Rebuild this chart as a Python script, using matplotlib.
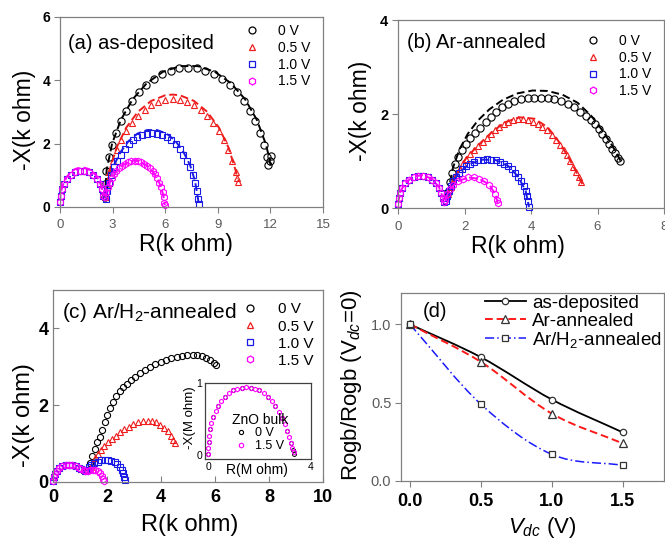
import numpy as np
import matplotlib
matplotlib.use('Agg')
import matplotlib.pyplot as plt
from matplotlib.path import Path
from matplotlib.patches import PathPatch
from matplotlib.lines import Line2D

plt.rcParams['font.family'] = ['Liberation Sans', 'DejaVu Sans']
plt.rcParams['mathtext.fontset'] = 'custom'
plt.rcParams['mathtext.rm'] = 'Liberation Sans'
plt.rcParams['mathtext.it'] = 'Liberation Sans:italic'
plt.rcParams['mathtext.bf'] = 'Liberation Sans:bold'

# ---------------- data (k ohm) ----------------
volt_labels = ['0 V', '0.5 V', '1.0 V', '1.5 V']

# (a) as-deposited
a_arc1_R = [0.00, 0.03, 0.11, 0.24, 0.41, 0.63, 0.86, 1.12, 1.38, 1.64, 1.88, 2.09, 2.26, 2.39, 2.47]
a_arc1_X = [0.15, 0.36, 0.56, 0.74, 0.89, 1.02, 1.10, 1.14, 1.14, 1.10, 1.02, 0.89, 0.74, 0.56, 0.36]
a_R0 = [2.55, 2.58, 2.65, 2.78, 2.96, 3.19, 3.46, 3.77, 4.12, 4.51, 4.93, 5.37, 5.83, 6.31, 6.80, 7.30,
        7.80, 8.29, 8.77, 9.23, 9.68, 10.09, 10.48, 10.83, 11.14, 11.41, 11.64, 11.82, 11.95, 12.05, 11.88]
a_X0 = [0.30, 0.73, 1.15, 1.57, 1.97, 2.35, 2.71, 3.04, 3.35, 3.62, 3.85, 4.05, 4.20, 4.31, 4.38, 4.40,
        4.38, 4.31, 4.20, 4.05, 3.85, 3.62, 3.35, 3.04, 2.71, 2.35, 1.97, 1.57, 1.45, 1.62, 1.33]
a_R05 = [2.57, 2.67, 2.82, 3.01, 3.23, 3.49, 3.78, 4.10, 4.45, 4.82, 5.20, 5.60, 6.01, 6.42, 6.83, 7.24,
         7.64, 8.02, 8.39, 8.74, 9.06, 9.35, 9.61, 9.83, 10.02, 10.10, 10.13]
a_X05 = [0.31, 0.71, 1.09, 1.45, 1.79, 2.11, 2.40, 2.66, 2.88, 3.06, 3.21, 3.31, 3.38, 3.40, 3.38, 3.31,
         3.21, 3.06, 2.88, 2.66, 2.40, 2.11, 1.79, 1.45, 1.09, 0.90, 0.80]
a_R10 = [2.63, 2.70, 2.80, 2.93, 3.08, 3.26, 3.46, 3.68, 3.91, 4.16, 4.42, 4.69, 4.97, 5.25, 5.53, 5.81,
         6.08, 6.34, 6.59, 6.83, 7.04, 7.24, 7.42, 7.57, 7.70, 7.80, 7.87, 7.90]
a_X10 = [0.25, 0.51, 0.77, 1.02, 1.25, 1.46, 1.65, 1.83, 1.98, 2.10, 2.20, 2.27, 2.32, 2.33, 2.32, 2.27,
         2.20, 2.10, 1.98, 1.83, 1.65, 1.46, 1.25, 1.02, 0.77, 0.51, 0.25, 0.11]
a_R15 = [2.59, 2.65, 2.73, 2.83, 2.95, 3.08, 3.22, 3.38, 3.54, 3.71, 3.89, 4.07, 4.25, 4.43, 4.61, 4.79,
         4.96, 5.13, 5.28, 5.42, 5.55, 5.67, 5.77, 5.85, 5.91, 5.96, 5.98]
a_X15 = [0.31, 0.47, 0.63, 0.77, 0.90, 1.03, 1.13, 1.23, 1.31, 1.37, 1.41, 1.44, 1.45, 1.44, 1.41, 1.37,
         1.31, 1.23, 1.13, 1.03, 0.90, 0.77, 0.63, 0.47, 0.31, 0.14, 0.06]
# fitted curves (dashed)
a_fit_arc1_R = [0.00, 0.03, 0.11, 0.24, 0.41, 0.63, 0.86, 1.12, 1.38, 1.64, 1.88, 2.09, 2.26, 2.39, 2.47]
a_fit_arc1_X = [0.15, 0.38, 0.60, 0.80, 0.97, 1.10, 1.20, 1.24, 1.24, 1.20, 1.10, 0.97, 0.80, 0.60, 0.38]
a_fit_R0 = [2.55, 2.66, 2.97, 3.47, 4.14, 4.95, 5.87, 6.85, 7.85, 8.83, 9.75, 10.56, 11.23, 11.73, 11.92, 12.01]
a_fit_X0 = [0.30, 1.17, 2.00, 2.75, 3.40, 3.91, 4.27, 4.45, 4.45, 4.27, 3.91, 3.40, 2.75, 2.00, 1.59, 1.31]
a_fit_R05 = [2.57, 2.82, 3.23, 3.78, 4.45, 5.20, 6.01, 6.42, 6.83, 7.64, 8.39, 9.06, 9.61, 10.02, 10.12]
a_fit_X05 = [0.34, 1.15, 1.88, 2.51, 3.01, 3.35, 3.53, 3.55, 3.53, 3.35, 3.01, 2.51, 1.88, 1.15, 0.89]
a_fit_R10 = [2.63, 2.80, 3.08, 3.46, 3.91, 4.42, 4.97, 5.53, 6.08, 6.59, 7.04, 7.42, 7.70, 7.87, 7.90]
a_fit_X10 = [0.27, 0.82, 1.32, 1.74, 2.08, 2.32, 2.43, 2.43, 2.32, 2.08, 1.74, 1.32, 0.82, 0.27, 0.13]
a_fit_R15 = [2.59, 2.73, 2.95, 3.22, 3.54, 3.89, 4.25, 4.61, 4.96, 5.28, 5.55, 5.77, 5.91, 5.98]
a_fit_X15 = [0.31, 0.63, 0.90, 1.13, 1.31, 1.41, 1.48, 1.41, 1.31, 1.13, 0.90, 0.63, 0.31, 0.06]

# (b) Ar-annealed
b_arc1_R = [0.00, 0.02, 0.06, 0.13, 0.22, 0.34, 0.47, 0.61, 0.75, 0.89, 1.02, 1.14, 1.23, 1.30, 1.35, 1.37]
b_arc1_X = [0.08, 0.21, 0.32, 0.43, 0.53, 0.60, 0.65, 0.68, 0.68, 0.65, 0.60, 0.53, 0.43, 0.32, 0.21, 0.12]
b_R0 = [1.50, 1.56, 1.63, 1.71, 1.80, 1.92, 2.05, 2.18, 2.32, 2.48, 2.64, 2.80, 2.96, 3.12, 3.30, 3.50,
        3.70, 3.90, 4.10, 4.30, 4.50, 4.70, 4.90, 5.10, 5.30, 5.48, 5.64, 5.79, 5.92, 6.04, 6.15, 6.25,
        6.35, 6.44, 6.53, 6.61, 6.68]
b_X0 = [0.35, 0.55, 0.75, 0.93, 1.09, 1.23, 1.37, 1.48, 1.59, 1.71, 1.83, 1.94, 2.05, 2.14, 2.21, 2.27,
        2.31, 2.34, 2.35, 2.35, 2.34, 2.32, 2.28, 2.22, 2.14, 2.05, 1.96, 1.88, 1.79, 1.68, 1.57, 1.46,
        1.36, 1.26, 1.16, 1.07, 1.00]
b_R05 = [1.50, 1.58, 1.66, 1.75, 1.85, 1.95, 2.06, 2.18, 2.30, 2.42, 2.55, 2.68, 2.80, 2.92, 3.05, 3.18,
         3.32, 3.46, 3.60, 3.75, 3.90, 4.05, 4.20, 4.34, 4.48, 4.62, 4.75, 4.87, 4.98, 5.08, 5.18, 5.27,
         5.35, 5.43, 5.50]
b_X05 = [0.30, 0.45, 0.58, 0.70, 0.83, 0.95, 1.05, 1.14, 1.23, 1.31, 1.40, 1.49, 1.58, 1.66, 1.73, 1.79,
         1.84, 1.88, 1.90, 1.90, 1.88, 1.84, 1.79, 1.73, 1.66, 1.55, 1.45, 1.34, 1.23, 1.12, 1.00, 0.88,
         0.76, 0.65, 0.55]
b_R10 = [1.44, 1.47, 1.52, 1.58, 1.65, 1.74, 1.83, 1.93, 2.05, 2.16, 2.29, 2.42, 2.55, 2.68, 2.81, 2.94,
         3.07, 3.20, 3.32, 3.43, 3.53, 3.62, 3.71, 3.78, 3.84, 3.89, 3.92, 3.94]
b_X10 = [0.14, 0.25, 0.36, 0.47, 0.57, 0.66, 0.75, 0.82, 0.89, 0.94, 0.98, 1.02, 1.03, 1.04, 1.03, 1.02,
         0.98, 0.94, 0.89, 0.82, 0.75, 0.66, 0.57, 0.47, 0.36, 0.25, 0.14, 0.02]
b_R15 = [1.42, 1.47, 1.55, 1.66, 1.80, 1.95, 2.12, 2.28, 2.45, 2.60, 2.74, 2.85, 2.93, 2.98, 3.00]
b_X15 = [0.17, 0.29, 0.40, 0.50, 0.57, 0.62, 0.65, 0.65, 0.62, 0.57, 0.50, 0.40, 0.29, 0.17, 0.11]
b_fit_arc1_R = [0.00, 0.06, 0.22, 0.47, 0.75, 1.02, 1.23, 1.35]
b_fit_arc1_X = [0.08, 0.33, 0.54, 0.67, 0.70, 0.62, 0.45, 0.22]
b_fit_R0 = [1.50, 1.65, 1.85, 2.10, 2.40, 2.75, 3.15, 3.60, 4.05, 4.50, 4.95, 5.40, 5.80, 6.15, 6.45, 6.70]
b_fit_X0 = [0.30, 0.85, 1.25, 1.58, 1.86, 2.10, 2.30, 2.44, 2.50, 2.49, 2.41, 2.24, 1.97, 1.65, 1.32, 1.00]
b_fit_R05 = [1.50, 1.75, 2.05, 2.40, 2.80, 3.20, 3.65, 4.10, 4.50, 4.85, 5.15, 5.40, 5.55]
b_fit_X05 = [0.30, 0.72, 1.06, 1.33, 1.60, 1.82, 1.93, 1.90, 1.72, 1.40, 1.05, 0.72, 0.50]
b_fit_R10 = [1.44, 1.58, 1.83, 2.16, 2.55, 2.94, 3.32, 3.62, 3.84, 3.94]
b_fit_X10 = [0.14, 0.47, 0.75, 0.94, 1.03, 1.02, 0.89, 0.66, 0.36, 0.02]
b_fit_R15 = [1.42, 1.55, 1.80, 2.12, 2.45, 2.74, 2.93, 3.00]
b_fit_X15 = [0.17, 0.40, 0.57, 0.65, 0.62, 0.50, 0.29, 0.11]

# (c) Ar/H2-annealed
c_arc1_R = [0.00, 0.03, 0.08, 0.15, 0.24, 0.35, 0.47, 0.60, 0.72, 0.84, 0.95, 1.05, 1.13, 1.20]
c_arc1_X = [0.02, 0.12, 0.21, 0.29, 0.36, 0.41, 0.44, 0.45, 0.44, 0.41, 0.37, 0.33, 0.30, 0.28]
c_R0 = [1.30, 1.38, 1.46, 1.55, 1.64, 1.73, 1.82, 1.92, 2.01, 2.11, 2.22, 2.34, 2.47, 2.60, 2.73, 2.88,
        3.04, 3.22, 3.40, 3.59, 3.79, 3.99, 4.19, 4.38, 4.58, 4.78, 4.98, 5.17, 5.35, 5.52, 5.68, 5.82,
        5.95, 6.05]
c_X0 = [0.32, 0.50, 0.68, 0.87, 1.03, 1.18, 1.36, 1.55, 1.74, 1.92, 2.09, 2.23, 2.36, 2.47, 2.56, 2.65,
        2.74, 2.83, 2.92, 3.00, 3.07, 3.13, 3.18, 3.22, 3.25, 3.28, 3.30, 3.31, 3.30, 3.27, 3.22, 3.17,
        3.11, 3.05]
c_R05 = [1.40, 1.48, 1.57, 1.67, 1.78, 1.90, 2.03, 2.17, 2.32, 2.48, 2.64, 2.81, 2.98, 3.15, 3.32, 3.50,
         3.67, 3.83, 3.98, 4.12, 4.25, 4.36, 4.45, 4.50]
c_X05 = [0.38, 0.50, 0.62, 0.74, 0.84, 0.94, 1.03, 1.12, 1.21, 1.29, 1.37, 1.44, 1.50, 1.55, 1.59, 1.60,
         1.59, 1.55, 1.49, 1.41, 1.32, 1.21, 1.10, 1.02]
c_R10 = [1.23, 1.32, 1.42, 1.53, 1.65, 1.78, 1.91, 2.04, 2.16, 2.28, 2.38, 2.47, 2.54, 2.60, 2.64, 2.66]
c_X10 = [0.30, 0.38, 0.44, 0.49, 0.53, 0.56, 0.57, 0.57, 0.55, 0.51, 0.46, 0.40, 0.32, 0.23, 0.13, 0.04]
c_R15 = [1.28, 1.37, 1.47, 1.57, 1.66, 1.74, 1.81, 1.86, 1.90]
c_X15 = [0.29, 0.31, 0.32, 0.31, 0.28, 0.23, 0.16, 0.09, 0.02]

# inset: ZnO bulk (M ohm)
ins_R0 = [0.00, 0.02, 0.08, 0.20, 0.40, 0.66, 0.97, 1.31, 1.65, 1.99, 2.32, 2.61, 2.86, 3.06, 3.21, 3.30, 3.34]
ins_X0 = [0.02, 0.18, 0.36, 0.53, 0.68, 0.81, 0.90, 0.93, 0.93, 0.90, 0.81, 0.68, 0.52, 0.34, 0.17, 0.07, 0.02]
ins_R15 = [0.00, 0.01, 0.02, 0.04, 0.08, 0.13, 0.20, 0.29, 0.40, 0.52, 0.66, 0.81, 0.97, 1.14, 1.31, 1.48,
           1.65, 1.82, 1.99, 2.16, 2.32, 2.47, 2.61, 2.74, 2.86, 2.97, 3.06, 3.14, 3.21, 3.27, 3.32]
ins_X15 = [0.02, 0.10, 0.18, 0.27, 0.36, 0.45, 0.53, 0.61, 0.68, 0.75, 0.81, 0.86, 0.90, 0.92, 0.93, 0.94,
           0.93, 0.92, 0.90, 0.86, 0.81, 0.75, 0.68, 0.60, 0.52, 0.43, 0.34, 0.25, 0.17, 0.10, 0.05]

# (d) grain-boundary resistance ratio
v_dc = [0.0, 0.5, 1.0, 1.5]
ratio_asdep = [1.0, 0.79, 0.52, 0.31]
ratio_ar = [1.0, 0.76, 0.43, 0.24]
ratio_arh2 = [1.0, 0.49, 0.17, 0.10]
d_labels = ['as-deposited', 'Ar-annealed', 'Ar/H$_2$-annealed']

# ---------------- styling ----------------
W, H = 665, 539
BLK, RED, BLU, MAG = 'black', '#ee1c1c', '#1a1ae6', '#ff00ff'
GRAY = '#808080'
TICKGRAY = '#5a5a5a'
colors = [BLK, RED, BLU, MAG]
markers = ['o', '^', 's', 'h']

fig = plt.figure(figsize=(W / 100, H / 100), dpi=100)


def px_axes(l, t, r, b):
    return fig.add_axes([l / W, 1 - b / H, (r - l) / W, (b - t) / H])


def style(ax, xsize, xbold, xcol, ysize, ybold, ycol, direction='out'):
    for s in ax.spines.values():
        s.set_color(GRAY)
        s.set_linewidth(0.9)
    ax.tick_params(direction=direction, length=4, width=0.8, color=GRAY)
    ax.tick_params(axis='x', labelsize=xsize, labelcolor=xcol, pad=5)
    ax.tick_params(axis='y', labelsize=ysize, labelcolor=ycol, pad=3)
    for t in ax.xaxis.get_major_ticks():
        t.label1.set_fontweight('bold' if xbold else 'normal')
    for t in ax.yaxis.get_major_ticks():
        t.label1.set_fontweight('bold' if ybold else 'normal')


def data(ax, R, X, color, marker, ms=4.8):
    ax.plot(R, X, ls='none', marker=marker, ms=ms, mfc='none', mec=color, mew=0.8, clip_on=False)


def fit(ax, R, X, color):
    ax.plot(R, X, color=color, ls=(0, (4, 2)), lw=1.4)


def volt_legend(ax, x, y, size):
    handles = [Line2D([], [], ls='none', marker=m, mfc='none', mec=c, ms=5, mew=0.9)
               for m, c in zip(markers, colors)]
    ax.legend(handles, volt_labels, loc='upper left', bbox_to_anchor=(x, y), frameon=False,
              fontsize=size, handlelength=1.0, handletextpad=1.35, labelspacing=0.2,
              borderpad=0, borderaxespad=0)


# ---------------- (a) ----------------
ax = px_axes(60, 17, 323, 207)
data(ax, a_R0, a_X0, BLK, 'o', 5.2)
fit(ax, a_fit_R0, a_fit_X0, BLK)
data(ax, a_R05, a_X05, RED, '^')
fit(ax, a_fit_R05, a_fit_X05, RED)
data(ax, a_arc1_R, a_arc1_X, BLU, 's')
data(ax, a_R10, a_X10, BLU, 's')
fit(ax, a_fit_R10, a_fit_X10, BLU)
data(ax, a_arc1_R, a_arc1_X, MAG, 'h')
data(ax, a_R15, a_X15, MAG, 'h')
fit(ax, a_fit_arc1_R, a_fit_arc1_X, MAG)
fit(ax, a_fit_R15, a_fit_X15, MAG)
ax.set_xlim(0, 15)
ax.set_ylim(0, 6)
ax.set_xticks([0, 3, 6, 9, 12, 15])
ax.set_yticks([0, 2, 4, 6])
style(ax, 9.5, False, TICKGRAY, 10, True, 'black')
ax.text(0.03, 0.863, '(a) as-deposited', transform=ax.transAxes, ha='left', va='center', fontsize=14.5)
volt_legend(ax, 0.703, 0.963, 10)
fig.text(24 / W, 1 - 120 / H, '-X(k ohm)', rotation=90, ha='center', va='center', fontsize=16.5)
fig.text(186 / W, 1 - 245 / H, 'R(k ohm)', ha='center', va='center', fontsize=16.5)

# ---------------- (b) ----------------
ax = px_axes(398, 20, 664, 208)
data(ax, b_R0, b_X0, BLK, 'o', 5.2)
fit(ax, b_fit_R0, b_fit_X0, BLK)
data(ax, b_R05, b_X05, RED, '^')
fit(ax, b_fit_R05, b_fit_X05, RED)
data(ax, b_arc1_R, b_arc1_X, BLU, 's')
data(ax, b_R10, b_X10, BLU, 's')
fit(ax, b_fit_R10, b_fit_X10, BLU)
data(ax, b_arc1_R, b_arc1_X, MAG, 'h')
data(ax, b_R15, b_X15, MAG, 'h')
fit(ax, b_fit_arc1_R, b_fit_arc1_X, MAG)
fit(ax, b_fit_R15, b_fit_X15, MAG)
ax.set_xlim(0, 8)
ax.set_ylim(0, 4)
ax.set_xticks([0, 2, 4, 6, 8])
ax.set_yticks([0, 2, 4])
style(ax, 9.5, False, TICKGRAY, 10.5, True, 'black')
ax.text(0.034, 0.878, '(b) Ar-annealed', transform=ax.transAxes, ha='left', va='center', fontsize=14.5)
volt_legend(ax, 0.707, 0.926, 10)
fig.text(360 / W, 1 - 111 / H, '-X(k ohm)', rotation=90, ha='center', va='center', fontsize=16.5)
fig.text(518 / W, 1 - 247 / H, 'R(k ohm)', ha='center', va='center', fontsize=16.5)

# ---------------- (c) ----------------
ax = px_axes(53, 290, 323, 482)
data(ax, c_R0, c_X0, BLK, 'o', 4.4)
data(ax, c_R05, c_X05, RED, '^', 4.4)
data(ax, c_arc1_R, c_arc1_X, BLU, 's', 4.4)
data(ax, c_R10, c_X10, BLU, 's', 4.8)
data(ax, c_arc1_R, c_arc1_X, MAG, 'h', 4.8)
data(ax, c_R15, c_X15, MAG, 'h', 4.8)
ax.set_xlim(0, 10)
ax.set_ylim(0, 5)
ax.set_xticks([0, 2, 4, 6, 8, 10])
ax.set_yticks([0, 2, 4])
style(ax, 13, True, 'black', 13, True, 'black', direction='in')
ax.text(0.033, 0.885, '(c) Ar/H$_2$-annealed', transform=ax.transAxes, ha='left', va='center', fontsize=15)
volt_legend(ax, 0.70, 0.935, 11)
fig.text(24 / W, 1 - 415 / H, '-X(k ohm)', rotation=90, ha='center', va='center', fontsize=17)
fig.text(190 / W, 1 - 525 / H, 'R(k ohm)', ha='center', va='center', fontsize=17)

# inset
axi = px_axes(205, 383, 311, 459)
axi.plot(ins_R0, ins_X0, ls='none', marker='o', ms=2.8, mfc='none', mec=BLK, mew=0.7, clip_on=False)
axi.plot(ins_R15, ins_X15, ls='none', marker='h', ms=3.2, mfc='none', mec=MAG, mew=0.8, clip_on=False)
axi.set_xlim(-0.12, 4.0)
axi.set_ylim(-0.05, 1.0)
axi.set_xticks([0, 4])
axi.set_yticks([0, 1])
for s in axi.spines.values():
    s.set_color('#404040')
    s.set_linewidth(0.9)
axi.tick_params(length=0, labelsize=7.5, pad=2)
ins_handles = [Line2D([], [], ls='none', marker='o', ms=3, mfc='none', mec=BLK, mew=0.8),
               Line2D([], [], ls='none', marker='h', ms=3.5, mfc='none', mec=MAG, mew=0.8)]
leg = axi.legend(ins_handles, ['0 V', '1.5 V'], title='ZnO bulk', loc='upper left',
                 bbox_to_anchor=(0.25, 0.61), frameon=False, fontsize=9, title_fontsize=10,
                 handlelength=1.0, handletextpad=0.6, labelspacing=0.05, borderpad=0, borderaxespad=0)
fig.text(190 / W, 1 - 418 / H, '-X(M ohm)', rotation=90, ha='center', va='center', fontsize=9.5)
fig.text(257 / W, 1 - 470 / H, 'R(M ohm)', ha='center', va='center', fontsize=10)

# ---------------- (d) ----------------


def smooth_path(x, y):
    p = np.column_stack([x, y]).astype(float)
    ext = np.vstack([2 * p[0] - p[1], p, 2 * p[-1] - p[-2]])
    verts = [p[0]]
    codes = [Path.MOVETO]
    for i in range(1, len(ext) - 2):
        b1 = ext[i] + (ext[i + 1] - ext[i - 1]) / 6
        b2 = ext[i + 1] - (ext[i + 2] - ext[i]) / 6
        verts += [b1, b2, ext[i + 1]]
        codes += [Path.CURVE4] * 3
    return Path(verts, codes)


ax = px_axes(401, 293, 664, 481)
d_series = [(ratio_asdep, BLK, '-', 'o', 4.6, 1.3),
            (ratio_ar, '#ff1a1a', (0, (4, 2)), '^', 5.2, 1.4),
            (ratio_arh2, '#1a1aff', (0, (6, 2, 1, 2)), 's', 5.0, 1.1)]
d_handles = []
for vals, c, ls, m, ms, lw in d_series:
    ax.add_patch(PathPatch(smooth_path(v_dc, vals), fill=False, edgecolor=c, lw=lw, linestyle=ls))
    ax.plot(v_dc, vals, ls='none', marker=m, ms=ms, mfc='white', mec='#333333', mew=0.9, zorder=3)
    d_handles.append(Line2D([], [], color=c, ls=ls, lw=lw, marker=m, ms=ms, mfc='white',
                            mec='#333333', mew=0.9))
ax.set_xlim(-0.063, 1.79)
ax.set_ylim(0, 1.2)
ax.set_xticks([0.0, 0.5, 1.0, 1.5])
ax.set_yticks([0.0, 0.5, 1.0])
ax.set_xticklabels(['0.0', '0.5', '1.0', '1.5'])
ax.set_yticklabels(['0.0', '0.5', '1.0'])
style(ax, 13, True, 'black', 10.5, False, TICKGRAY)
ax.text(0.083, 0.899, '(d)', transform=ax.transAxes, ha='left', va='center', fontsize=14.5)
ax.legend(d_handles, d_labels, loc='upper left', bbox_to_anchor=(0.318, 0.99), frameon=False,
          fontsize=13.5, handlelength=2.2, handletextpad=0.35, labelspacing=0.02,
          borderpad=0, borderaxespad=0)
fig.text(352 / W, 1 - 385 / H, 'Rogb/Rogb (V$_{dc}$=0)', rotation=90, ha='center', va='center', fontsize=16)
fig.text(542 / W, 1 - 527 / H, '$V_{dc}$ (V)', ha='center', va='center', fontsize=16)

fig.savefig('out.png', dpi=100)
